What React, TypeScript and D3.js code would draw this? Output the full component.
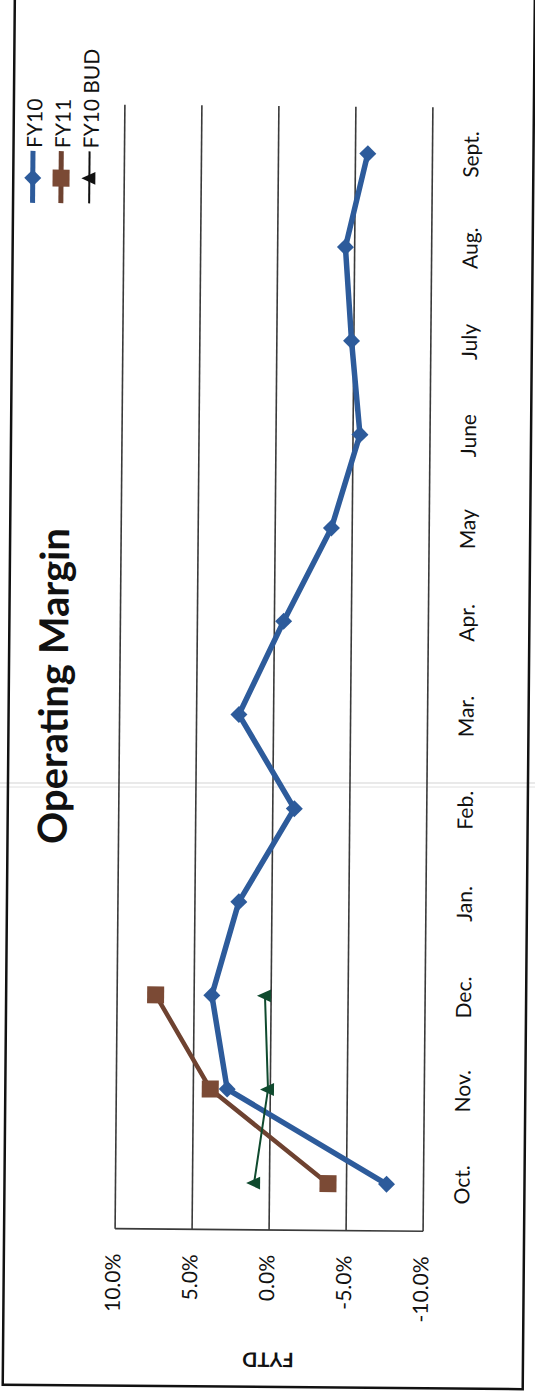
import React from "react";
import * as d3 from "d3";

const months = ["Oct.", "Nov.", "Dec.", "Jan.", "Feb.", "Mar.", "Apr.", "May", "June", "July", "Aug.", "Sept."];
const fy10 = [-7.6, 2.8, 3.85, 2.15, -1.4, 2.25, -0.6, -3.65, -5.45, -4.85, -4.4, -5.8];
const fy11 = [-3.8, 3.9, 7.5];
const fy10Bud = [1.0, 0.15, 0.4];
const valueTicks = [10, 5, 0, -5, -10];
const seriesNames = ["FY10", "FY11", "FY10 BUD"];

const W = 535;
const H = 1391;
const BLUE = "#2d5b9b";
const BROWN = "#6e4230";
const BROWN_M = "#7b4a35";
const GREEN = "#0f4a2e";
const FONT = "Lato, 'Open Sans', sans-serif";

const x = d3.scaleLinear().domain([-10, 10]).range([428, 120]);
const yBand = d3.scaleBand<string>().domain(months).range([1230, 106]);
const bw = yBand.bandwidth();
const yc = (i: number) => (yBand(months[i]) as number) + bw / 2;

const lineGen = d3
  .line<number>()
  .x((v) => x(v))
  .y((_, i) => yc(i));

const diamond = (r: number) => `M0,${-r}L${r},0L0,${r}L${-r},0Z`;
const triangleLeft = (r: number) => `M${-r},0L${r * 0.75},${-r * 0.8}L${r * 0.75},${r * 0.8}Z`;

function Marker({ kind, cx, cy }: { kind: number; cx: number; cy: number }) {
  if (kind === 0) return <path d={diamond(8.5)} transform={`translate(${cx},${cy})`} fill={BLUE} />;
  if (kind === 1) return <rect x={cx - 8.5} y={cy - 8.5} width={17} height={17} fill={BROWN_M} />;
  return <path d={triangleLeft(8)} transform={`translate(${cx},${cy})`} fill={GREEN} />;
}

export default function App() {
  const series = [
    { data: fy10, color: BLUE, width: 5.5 },
    { data: fy11, color: BROWN, width: 4.5 },
    { data: fy10Bud, color: GREEN, width: 2 },
  ];
  const yTop = yBand.range()[1];
  const yBottom = yBand.range()[0];
  return (
    <svg
      width={W}
      height={H}
      style={{ position: "absolute", left: 0, top: 0, background: "#fff" }}
      fontFamily={FONT}
    >
      <rect x={0} y={0} width={W} height={H} fill="#fff" />
      <line x1={0} x2={W} y1={783} y2={783} stroke="#d4d4d4" strokeWidth={1.2} />
      <line x1={0} x2={W} y1={787} y2={787} stroke="#e0e0e0" strokeWidth={1} />
      <g transform="rotate(0.5, 274, 667)">
        <rect x={9} y={-10} width={520} height={1397} fill="none" stroke="#111" strokeWidth={2.5} />
        {valueTicks.map((t) => (
          <line key={t} x1={x(t)} x2={x(t)} y1={yTop} y2={yBottom} stroke="#3a3a3a" strokeWidth={1.6} />
        ))}
        <line x1={x(10)} x2={x(-10)} y1={yBottom} y2={yBottom} stroke="#3a3a3a" strokeWidth={1.6} />
        {valueTicks.map((t) => (
          <text
            key={"l" + t}
            transform={`translate(${x(t) + 5.5},1255) rotate(-90)`}
            textAnchor="end"
            fontSize={21}
            fill="#111"
          >
            {t.toFixed(1) + "%"}
          </text>
        ))}
        {months.map((m, i) => (
          <text
            key={m}
            transform={`translate(474,${yc(i)}) rotate(-90)`}
            textAnchor="middle"
            fontSize={21}
            fill="#111"
          >
            {m}
          </text>
        ))}
        <text transform="translate(68,688) rotate(-90)" textAnchor="middle" fontSize={40} fontWeight="bold" fill="#111">
          Operating Margin
        </text>
        <text transform="translate(274,1352.5) rotate(180)" textAnchor="middle" fontSize={20} fontWeight="bold" fill="#111">
          FYTD
        </text>
        {series.map((s, k) => (
          <path key={"p" + k} d={lineGen(s.data) || ""} fill="none" stroke={s.color} strokeWidth={s.width} strokeLinejoin="round" />
        ))}
        {series.map((s, k) =>
          s.data.map((v, i) => <Marker key={`m${k}-${i}`} kind={k} cx={x(v)} cy={yc(i)} />)
        )}
        {seriesNames.map((name, k) => {
          const lx = 28.5 + k * 28.3;
          return (
            <g key={name}>
              <line x1={lx} x2={lx} y1={153} y2={205} stroke={k === 2 ? "#111" : series[k].color} strokeWidth={k === 2 ? 2 : 5} />
              {k === 0 && <path d={diamond(8.5)} transform={`translate(${lx},180)`} fill={BLUE} />}
              {k === 1 && <rect x={lx - 8.5} y={171.5} width={17} height={17} fill={BROWN_M} />}
              {k === 2 && <path d={triangleLeft(8)} transform={`translate(${lx},180)`} fill="#111" />}
              <text transform={`translate(${lx + 9},150) rotate(-90)`} textAnchor="start" fontSize={21} fill="#111">
                {name}
              </text>
            </g>
          );
        })}
      </g>
    </svg>
  );
}
